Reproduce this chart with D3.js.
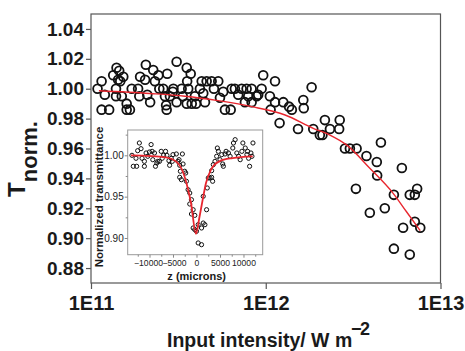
<!DOCTYPE html>
<html>
<head>
<meta charset="utf-8">
<script src="https://cdn.jsdelivr.net/npm/d3@7"></script>
<style>
  html, body { margin: 0; padding: 0; background: #fff; }
  svg { display: block; font-family: 'Liberation Sans', Arial, sans-serif; }
</style>
</head>
<body>
<div id="chart"></div>
<script>
// Main panel: input intensity (W m^-2) vs normalized transmittance
const intensity = [
  1.09e11, 1.15e11, 1.20e11, 1.15e11, 1.27e11, 1.34e11, 1.40e11, 1.43e11, 1.39e11, 1.39e11,
  1.47e11, 1.53e11, 1.50e11, 1.60e11, 1.60e11, 1.67e11, 1.71e11, 1.86e11, 1.91e11, 1.89e11,
  2.04e11, 2.06e11, 2.10e11, 2.18e11, 2.27e11, 2.32e11, 2.43e11, 2.46e11, 2.59e11, 2.65e11,
  2.69e11, 2.71e11, 2.73e11, 2.83e11, 2.96e11, 3.09e11, 3.09e11, 3.30e11, 3.35e11, 3.53e11,
  3.55e11, 3.53e11, 3.60e11, 3.72e11, 3.93e11, 3.99e11, 4.20e11, 4.30e11, 4.49e11, 4.59e11,
  4.90e11, 5.05e11, 5.35e11, 5.47e11, 5.71e11, 5.84e11, 6.30e11, 6.38e11, 6.66e11, 6.96e11,
  7.28e11, 7.60e11, 7.77e11, 7.94e11, 8.30e11, 8.30e11, 9.05e11, 9.47e11, 9.67e11, 1.056e12,
  1.066e12, 1.13e12, 1.13e12, 1.20e12, 1.26e12, 1.36e12, 1.41e12, 1.64e12, 1.65e12, 1.83e12,
  1.53e12, 1.87e12, 2.04e12, 2.11e12, 2.18e12, 2.33e12, 2.65e12, 2.63e12, 2.84e12, 3.03e12,
  3.31e12, 3.77e12, 4.32e12, 4.56e12, 4.34e12, 6.01e12, 3.28e12, 5.41e12, 6.67e12, 7.13e12,
  7.35e12, 3.94e12, 4.80e12, 6.11e12, 7.13e12, 7.66e12, 5.41e12, 6.67e12,
  4.39e11, 3.77e11, 8.87e11, 2.94e11, 1.45e11
]
const tNorm = [
  1.000, 1.005, 0.996, 0.986, 0.986, 1.009, 1.014, 1.006, 1.000, 0.995,
  1.005, 1.008, 0.995, 0.990, 0.986, 0.986, 1.000, 1.000, 1.008, 0.995,
  1.006, 1.016, 0.996, 0.991, 1.0125, 1.005, 1.009, 1.000, 1.000, 0.995,
  0.989, 0.986, 1.010, 0.995, 1.000, 1.018, 0.991, 1.000, 0.995, 1.014,
  1.005, 0.990, 1.000, 1.010, 0.995, 0.990, 1.000, 1.005, 0.991, 1.005,
  1.005, 1.000, 1.005, 0.994, 0.998, 0.986, 0.986, 1.000, 1.000, 0.996,
  1.000, 0.991, 1.000, 0.995, 1.000, 0.991, 0.996, 1.000, 1.009, 0.995,
  0.986, 1.005, 0.991, 0.977, 0.991, 0.988, 0.986, 0.9925, 0.987, 1.001,
  0.973, 0.973, 0.969, 0.969, 0.979, 0.973, 0.979, 0.973, 0.960, 0.960,
  0.960, 0.955, 0.951, 0.964, 0.942, 0.947, 0.933, 0.929, 0.929, 0.929,
  0.933, 0.917, 0.920, 0.907, 0.911, 0.907, 0.893, 0.889,
  0.997, 0.990, 0.995, 0.998, 1.012
]

// Fit curve (red)
const fitIntensity = [1.11e11, 2.17e11, 3.45e11, 5.35e11, 8.30e11, 1.29e12, 1.87e12, 2.33e12, 2.90e12, 3.94e12, 5.36e12, 6.39e12, 7.66e12]
const fitT = [0.9986, 0.9968, 0.995, 0.992, 0.988, 0.9824, 0.9735, 0.969, 0.9624, 0.9468, 0.930, 0.9177, 0.905]

const xTickValues = [1e11, 1e12, 1e13]
const xTickLabels = ['1E11', '1E12', '1E13']
const yTickValues = [0.88, 0.90, 0.92, 0.94, 0.96, 0.98, 1.00, 1.02, 1.04]

// Inset: z-scan, position (microns) vs normalized transmittance
const zPos = [
  -13734, -13449, -12733, -12876, -12518, -12161, -11803, -11588, -11088, -11088,
  -10730, -10372, -10015, -9657, -9442, -9300, -8942, -8727, -8441, -8226,
  -7869, -7511, -7296, -7010, -6581, -6295, -5866, -5723, -5365, -5150,
  -5007, -4292, -3934, -3720, -3577, -3004, -2861, -3434, -2504, -2289,
  -3577, -3219, -2146, -1788, -1431, -1073, -1431, -715, -1073, -358,
  -715, -358, 0, 358, 1073, 358, 1073, 1431, 1788, 2146,
  1431, 2289, 2504, 2861, 3219, 3434, 3219, 3577, 3934, 4292,
  4435, 4650, 5007, 5365, 5580, 5723, 6080, 6295, 6796, 7153,
  7726, 7869, 8226, 8584, 8942, 9300, 9657, 9872, 10372, 10730,
  10873, 11088, 11303, 11588, 12018, 11803
]
const zT = [
  1.000, 0.9867, 0.9867, 0.9964, 1.0056, 1.0149, 1.008, 0.9964, 0.9927, 0.9867,
  1.0028, 0.9988, 1.004, 1.013, 1.0048, 0.9947, 1.0028, 0.9867, 0.9907, 0.9927,
  0.9927, 1.0048, 0.9964, 1.000, 1.0048, 1.000, 0.9935, 0.9879, 0.9964, 0.9927,
  1.0008, 1.0016, 0.9927, 0.9947, 0.9879, 1.0016, 0.9895, 0.9807, 0.9807, 0.9786,
  0.9734, 0.9705, 0.9686, 0.9584, 0.9544, 0.9463, 0.9411, 0.9342, 0.929, 0.9274,
  0.9121, 0.9101, 0.9081, 0.894, 0.8919, 0.9161, 0.9121, 0.9181, 0.9161, 0.9342,
  0.9504, 0.9605, 0.9726, 0.9726, 0.9734, 0.9686, 0.9814, 0.9887, 0.9927, 0.9988,
  1.0088, 1.0048, 0.9947, 1.0008, 0.9895, 0.9867, 1.0016, 1.0048, 1.0028, 0.9988,
  1.0088, 1.0149, 1.0189, 1.0028, 0.9988, 0.9947, 1.0048, 1.0149, 1.0088, 1.0008,
  1.0048, 0.9964, 0.9867, 1.0028, 1.0149, 0.9988
]
const zFitPos = [-13940, -6490, -4360, -2940, -1870, -1170, -100, 596, 1319, 2022, 3086, 4852, 7703, 11959]
const zFitT = [1.000, 0.9976, 0.9927, 0.9807, 0.9605, 0.9423, 0.9049, 0.9242, 0.9463, 0.9665, 0.9826, 0.9927, 0.9967, 0.9988]

const insetXTicks = [-10000, -5000, 0, 5000, 10000]
const insetXMinor = [-12500, -7500, -2500, 2500, 7500, 12500]
const insetYTicks = [0.90, 0.95, 1.00]
const insetYMinor = [0.925, 0.975, 1.025]

const width = 465
const height = 351

const svg = d3.select('#chart')
  .append('svg')
  .attr('width', width)
  .attr('height', height)

// Scales
const x = d3.scaleLog().domain([1e11, 1e13]).range([91, 440.5])
const y = d3.scaleLinear().domain([0.87, 1.05]).range([283, 14])

// Frame
svg.append('rect')
  .attr('x', 91).attr('y', 14)
  .attr('width', 349.5).attr('height', 269)
  .attr('fill', 'none')
  .attr('stroke', '#555')
  .attr('stroke-width', 1.2)

// Y axis
const yAxis = svg.append('g')
  .attr('transform', 'translate(91,0)')
  .call(d3.axisLeft(y).tickValues(yTickValues).tickFormat(d3.format('.2f')).tickSize(5).tickPadding(2))
yAxis.select('.domain').remove()
yAxis.selectAll('line').attr('stroke', '#555').attr('stroke-width', 1.2)
yAxis.selectAll('text')
  .attr('font-size', '19px').attr('font-weight', '700').attr('fill', '#1a1a1a')
  .attr('font-family', "'Liberation Sans', Arial, sans-serif")

// X axis
const xAxis = svg.append('g')
  .attr('transform', 'translate(0,283)')
  .call(d3.axisBottom(x).tickValues(xTickValues).tickFormat((d, i) => xTickLabels[i]).tickSize(6).tickPadding(7))
xAxis.select('.domain').remove()
xAxis.selectAll('line').attr('stroke', '#555').attr('stroke-width', 1.2)
xAxis.selectAll('text')
  .attr('font-size', '20px').attr('font-weight', '700').attr('fill', '#1a1a1a')
  .attr('font-family', "'Liberation Sans', Arial, sans-serif")

// Data points
svg.append('g')
  .selectAll('circle')
  .data(intensity.map((v, i) => [v, tNorm[i]]))
  .join('circle')
  .attr('cx', d => x(d[0]))
  .attr('cy', d => y(d[1]))
  .attr('r', 4.4)
  .attr('fill', 'none')
  .attr('stroke', '#111')
  .attr('stroke-width', 1.8)

// Fit line
const fitLine = d3.line()
  .x(d => x(d[0]))
  .y(d => y(d[1]))
  .curve(d3.curveMonotoneX)
svg.append('path')
  .datum(fitIntensity.map((v, i) => [v, fitT[i]]))
  .attr('d', fitLine)
  .attr('fill', 'none')
  .attr('stroke', '#e8262e')
  .attr('stroke-width', 1.4)

// Axis titles
svg.append('text')
  .attr('transform', 'translate(25,159) rotate(-90)')
  .attr('text-anchor', 'middle')
  .attr('font-weight', '700')
  .attr('fill', '#1a1a1a')
  .call(t => {
    t.append('tspan').attr('font-size', '24px').text('T')
    t.append('tspan').attr('font-size', '22px').attr('dy', 12).text('norm.')
  })

svg.append('text')
  .attr('x', 167).attr('y', 347)
  .attr('font-size', '19.5px').attr('font-weight', '700').attr('fill', '#1a1a1a')
  .text('Input intensity/ W m')
// superscript sits up and to the right of the "m"
svg.append('text')
  .attr('y', 335)
  .attr('font-size', '18px').attr('font-weight', '700').attr('fill', '#1a1a1a')
  .call(t => {
    t.append('tspan').attr('x', 351).text('\u2212')
    t.append('tspan').attr('x', 360).text('2')
  })

// Inset
const inset = svg.append('g')
const ix = d3.scaleLinear().domain([-14640, 14090]).range([127.7, 262.7])
const iy = d3.scaleLinear().domain([0.8798, 1.0306]).range([254.7, 130])

inset.append('rect')
  .attr('x', 127.7).attr('y', 130)
  .attr('width', 135).attr('height', 124.7)
  .attr('fill', '#fff')
  .attr('stroke', '#999')
  .attr('stroke-width', 1)

const iyAxis = inset.append('g')
  .attr('transform', 'translate(127.7,0)')
  .call(d3.axisLeft(iy).tickValues(insetYTicks).tickFormat(d3.format('.2f')).tickSize(3).tickPadding(1))
iyAxis.select('.domain').remove()
iyAxis.selectAll('line').attr('stroke', '#888')
iyAxis.selectAll('text').attr('font-size', '10px').attr('fill', '#222')
  .attr('font-family', "'Liberation Sans', Arial, sans-serif")

const iyMinor = inset.append('g')
  .attr('transform', 'translate(127.7,0)')
  .call(d3.axisLeft(iy).tickValues(insetYMinor).tickFormat('').tickSize(2))
iyMinor.select('.domain').remove()
iyMinor.selectAll('line').attr('stroke', '#888')

const ixAxis = inset.append('g')
  .attr('transform', 'translate(0,254.7)')
  .call(d3.axisBottom(ix).tickValues(insetXTicks).tickFormat(d3.format('d')).tickSize(3).tickPadding(2))
ixAxis.select('.domain').remove()
ixAxis.selectAll('line').attr('stroke', '#888')
ixAxis.selectAll('text').attr('font-size', '8.6px').attr('fill', '#222')
  .attr('font-family', "'Liberation Sans', Arial, sans-serif")
  // the two negative labels nearly touch in the original; nudge them apart
  .attr('dx', d => d === -10000 ? -1.5 : d === -5000 ? 1 : 0)

const ixMinor = inset.append('g')
  .attr('transform', 'translate(0,254.7)')
  .call(d3.axisBottom(ix).tickValues(insetXMinor).tickFormat('').tickSize(2))
ixMinor.select('.domain').remove()
ixMinor.selectAll('line').attr('stroke', '#888')

inset.append('g')
  .selectAll('circle')
  .data(zPos.map((v, i) => [v, zT[i]]))
  .join('circle')
  .attr('cx', d => ix(d[0]))
  .attr('cy', d => iy(d[1]))
  .attr('r', 2.1)
  .attr('fill', 'none')
  .attr('stroke', '#111')
  .attr('stroke-width', 1)

const zLine = d3.line()
  .x(d => ix(d[0]))
  .y(d => iy(d[1]))
  .curve(d3.curveMonotoneX)
inset.append('path')
  .datum(zFitPos.map((v, i) => [v, zFitT[i]]))
  .attr('d', zLine)
  .attr('fill', 'none')
  .attr('stroke', '#e8262e')
  .attr('stroke-width', 1.8)

inset.append('text')
  .attr('transform', 'translate(102.5,197) rotate(-90)')
  .attr('text-anchor', 'middle')
  .attr('font-size', '11.5px').attr('font-weight', '700').attr('fill', '#1a1a1a')
  .text('Normalized transmittance')

inset.append('text')
  .attr('x', 196.7).attr('y', 279.5)
  .attr('text-anchor', 'middle')
  .attr('font-size', '11px').attr('font-weight', '700').attr('fill', '#1a1a1a')
  .text('z (microns)')
</script>
</body>
</html>
